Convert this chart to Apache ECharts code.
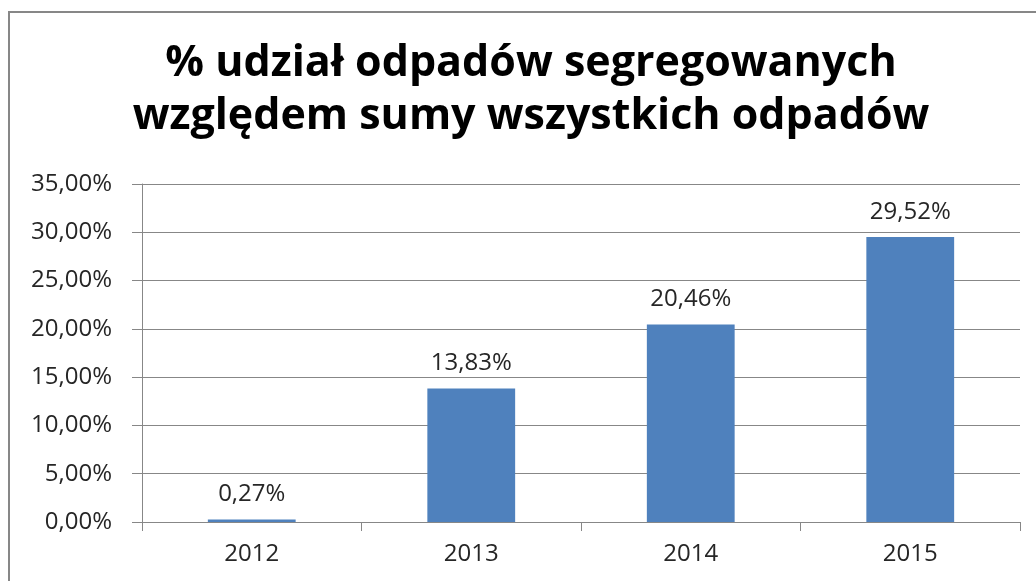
<!DOCTYPE html>
<html>
<head>
<meta charset="utf-8">
<script src="https://cdn.jsdelivr.net/npm/echarts@6/dist/echarts.min.js"></script>
<style>
html,body{margin:0;padding:0;background:#fff;}
#c{width:1036px;height:581px;}
</style>
</head>
<body>
<div id="c"></div>
<script>
const titleLines = ['% udział odpadów segregowanych', 'względem sumy wszystkich odpadów'];
const categories = ['2012', '2013', '2014', '2015'];
const values = [0.27, 13.83, 20.46, 29.52];
const yMin = 0, yMax = 35, yStep = 5;

function pl(v) { return v.toFixed(2).replace('.', ',') + '%'; }

const chart = echarts.init(document.getElementById('c'));
chart.setOption({
  animation: false,
  backgroundColor: '#fff',
  graphic: [{
    type: 'rect', silent: true, z: 100,
    shape: { x: 9, y: 12, width: 1060, height: 620 },
    style: { fill: 'none', stroke: '#878787', lineWidth: 2 }
  }],
  title: {
    text: titleLines.join('\n'),
    left: 526, textAlign: 'center', top: 32,
    textStyle: { fontFamily: 'Open Sans', fontWeight: 'bold', fontSize: 43, lineHeight: 53, color: '#000' }
  },
  grid: { left: 142, right: 16, top: 184, bottom: 59, containLabel: false },
  xAxis: {
    type: 'category',
    data: categories,
    axisLine: { lineStyle: { color: '#878787', width: 1 } },
    axisTick: { show: true, alignWithLabel: false, length: 9, lineStyle: { color: '#878787' } },
    axisLabel: { fontFamily: 'Open Sans', fontSize: 24, color: '#262626', margin: 20 }
  },
  yAxis: {
    type: 'value',
    min: yMin, max: yMax, interval: yStep,
    axisLine: { show: true, lineStyle: { color: '#878787', width: 1 } },
    axisTick: { show: true, length: 10, lineStyle: { color: '#878787' } },
    splitLine: { show: true, lineStyle: { color: '#878787', width: 1 } },
    axisLabel: { fontFamily: 'Open Sans', fontSize: 24, color: '#262626', margin: 30, formatter: v => pl(v) }
  },
  series: [{
    type: 'bar',
    data: values,
    barCategoryGap: '60%',
    itemStyle: { color: '#4F81BD' },
    label: {
      show: true, position: 'top', distance: 13,
      fontFamily: 'Open Sans', fontSize: 24, color: '#262626',
      formatter: p => pl(p.value)
    }
  }]
});
</script>
</body>
</html>
